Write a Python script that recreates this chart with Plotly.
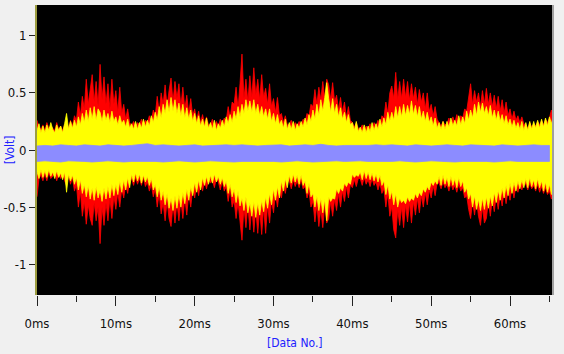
import numpy as np
import plotly.graph_objects as go

# sampling step of the envelope readings (ms)
STEP_MS = 0.25

# envelope values (Volt), 4 readings per ms
red_top = [
    0.26, 0.2, 0.18, 0.22, 0.17, 0.24, 0.19, 0.21, 0.19, 0.17, 0.24, 0.18,
    0.21, 0.17, 0.22, 0.25, 0.19, 0.26, 0.21, 0.3, 0.26, 0.42, 0.3, 0.47,
    0.36, 0.62, 0.4, 0.55, 0.66, 0.42, 0.6, 0.38, 0.75, 0.44, 0.64, 0.4,
    0.58, 0.36, 0.62, 0.4, 0.52, 0.33, 0.55, 0.32, 0.4, 0.27, 0.36, 0.24,
    0.21, 0.25, 0.2, 0.24, 0.22, 0.27, 0.21, 0.26, 0.24, 0.3, 0.25, 0.35,
    0.3, 0.47, 0.33, 0.5, 0.4, 0.57, 0.38, 0.52, 0.63, 0.42, 0.6, 0.45,
    0.58, 0.38, 0.55, 0.36, 0.48, 0.32, 0.45, 0.3, 0.36, 0.26, 0.34, 0.24,
    0.31, 0.23, 0.29, 0.22, 0.22, 0.27, 0.2, 0.25, 0.21, 0.27, 0.22, 0.28,
    0.26, 0.38, 0.28, 0.42, 0.4, 0.55, 0.36, 0.58, 0.84, 0.45, 0.62, 0.42,
    0.65, 0.46, 0.72, 0.48, 0.62, 0.44, 0.66, 0.46, 0.54, 0.4, 0.58, 0.38,
    0.45, 0.33, 0.46, 0.3, 0.32, 0.24, 0.3, 0.22, 0.22, 0.26, 0.2, 0.24,
    0.21, 0.25, 0.22, 0.27, 0.25, 0.32, 0.3, 0.4, 0.38, 0.53, 0.4, 0.55,
    0.44, 0.6, 0.45, 0.62, 0.57, 0.44, 0.59, 0.42, 0.48, 0.35, 0.46, 0.33,
    0.42, 0.28, 0.38, 0.26, 0.24, 0.2, 0.24, 0.19, 0.18, 0.22, 0.17, 0.21,
    0.19, 0.23, 0.18, 0.24, 0.21, 0.26, 0.22, 0.3, 0.28, 0.42, 0.32, 0.5,
    0.56, 0.45, 0.68, 0.44, 0.6, 0.45, 0.62, 0.46, 0.6, 0.44, 0.58, 0.45,
    0.55, 0.4, 0.53, 0.42, 0.5, 0.36, 0.5, 0.34, 0.4, 0.3, 0.38, 0.27,
    0.24, 0.21, 0.25, 0.22, 0.23, 0.28, 0.22, 0.29, 0.24, 0.31, 0.25, 0.3,
    0.28, 0.36, 0.34, 0.46, 0.58, 0.4, 0.52, 0.42, 0.5, 0.38, 0.52, 0.4,
    0.54, 0.4, 0.5, 0.38, 0.48, 0.36, 0.47, 0.34, 0.44, 0.32, 0.42, 0.3,
    0.36, 0.27, 0.34, 0.26, 0.3, 0.24, 0.29, 0.23, 0.22, 0.19, 0.24, 0.2,
    0.23, 0.21, 0.25, 0.22, 0.26, 0.22, 0.27, 0.24, 0.28, 0.35, 0.29, 0.34]

red_bottom = [
    -0.41, -0.25, -0.22, -0.27, -0.21, -0.27, -0.2, -0.25, -0.23, -0.19, -0.27, -0.21,
    -0.25, -0.2, -0.27, -0.31, -0.22, -0.3, -0.24, -0.36, -0.3, -0.5, -0.36, -0.58,
    -0.45, -0.65, -0.48, -0.6, -0.66, -0.46, -0.62, -0.5, -0.82, -0.5, -0.66, -0.46,
    -0.62, -0.42, -0.6, -0.4, -0.52, -0.37, -0.5, -0.34, -0.42, -0.3, -0.38, -0.27,
    -0.25, -0.31, -0.24, -0.3, -0.25, -0.31, -0.24, -0.32, -0.28, -0.36, -0.3, -0.41,
    -0.34, -0.5, -0.38, -0.56, -0.46, -0.62, -0.45, -0.6, -0.67, -0.48, -0.64, -0.46,
    -0.62, -0.44, -0.6, -0.42, -0.57, -0.38, -0.5, -0.34, -0.42, -0.3, -0.4, -0.28,
    -0.36, -0.27, -0.34, -0.26, -0.29, -0.26, -0.33, -0.25, -0.28, -0.35, -0.27, -0.36,
    -0.32, -0.45, -0.34, -0.5, -0.44, -0.6, -0.46, -0.65, -0.79, -0.5, -0.68, -0.48,
    -0.7, -0.5, -0.72, -0.52, -0.73, -0.52, -0.74, -0.5, -0.73, -0.48, -0.64, -0.44,
    -0.55, -0.38, -0.5, -0.36, -0.42, -0.3, -0.38, -0.27, -0.27, -0.34, -0.26, -0.32,
    -0.27, -0.33, -0.26, -0.34, -0.32, -0.42, -0.36, -0.5, -0.45, -0.63, -0.48, -0.67,
    -0.52, -0.68, -0.48, -0.64, -0.6, -0.45, -0.58, -0.43, -0.53, -0.38, -0.5, -0.36,
    -0.45, -0.32, -0.42, -0.3, -0.33, -0.26, -0.32, -0.25, -0.25, -0.31, -0.24, -0.3,
    -0.26, -0.32, -0.25, -0.31, -0.28, -0.35, -0.29, -0.38, -0.34, -0.5, -0.38, -0.58,
    -0.5, -0.7, -0.77, -0.52, -0.66, -0.5, -0.68, -0.48, -0.63, -0.46, -0.64, -0.45,
    -0.57, -0.42, -0.55, -0.4, -0.5, -0.37, -0.48, -0.35, -0.42, -0.31, -0.4, -0.29,
    -0.29, -0.34, -0.28, -0.33, -0.3, -0.36, -0.29, -0.35, -0.31, -0.37, -0.3, -0.36,
    -0.33, -0.42, -0.4, -0.52, -0.6, -0.45, -0.57, -0.44, -0.58, -0.66, -0.5, -0.64,
    -0.6, -0.45, -0.58, -0.43, -0.54, -0.4, -0.52, -0.39, -0.49, -0.36, -0.47, -0.35,
    -0.44, -0.32, -0.42, -0.31, -0.37, -0.3, -0.35, -0.29, -0.3, -0.35, -0.29, -0.34,
    -0.31, -0.36, -0.3, -0.37, -0.32, -0.38, -0.33, -0.39, -0.36, -0.43, -0.37, -0.42]

yellow_top = [
    0.17, 0.23, 0.15, 0.21, 0.15, 0.22, 0.17, 0.24, 0.18, 0.15, 0.22, 0.17,
    0.21, 0.15, 0.23, 0.32, 0.18, 0.25, 0.19, 0.26, 0.2, 0.29, 0.22, 0.32,
    0.24, 0.35, 0.25, 0.37, 0.27, 0.38, 0.26, 0.36, 0.33, 0.25, 0.35, 0.26,
    0.32, 0.24, 0.34, 0.25, 0.29, 0.22, 0.3, 0.23, 0.26, 0.2, 0.27, 0.19,
    0.23, 0.18, 0.25, 0.18, 0.24, 0.19, 0.27, 0.2, 0.26, 0.21, 0.3, 0.24,
    0.33, 0.26, 0.38, 0.28, 0.4, 0.32, 0.44, 0.33, 0.46, 0.34, 0.44, 0.32,
    0.41, 0.3, 0.4, 0.28, 0.37, 0.27, 0.35, 0.25, 0.32, 0.23, 0.3, 0.21,
    0.27, 0.2, 0.28, 0.19, 0.24, 0.18, 0.26, 0.17, 0.23, 0.19, 0.26, 0.2,
    0.29, 0.23, 0.31, 0.24, 0.34, 0.27, 0.38, 0.29, 0.4, 0.32, 0.44, 0.34,
    0.43, 0.33, 0.44, 0.32, 0.4, 0.3, 0.38, 0.29, 0.36, 0.27, 0.36, 0.25,
    0.32, 0.23, 0.31, 0.22, 0.26, 0.19, 0.27, 0.18, 0.24, 0.18, 0.25, 0.17,
    0.23, 0.19, 0.25, 0.2, 0.28, 0.22, 0.31, 0.25, 0.35, 0.27, 0.4, 0.3,
    0.44, 0.34, 0.46, 0.59, 0.45, 0.33, 0.45, 0.32, 0.4, 0.29, 0.37, 0.27,
    0.33, 0.24, 0.31, 0.22, 0.24, 0.17, 0.25, 0.16, 0.2, 0.15, 0.22, 0.15,
    0.21, 0.16, 0.24, 0.17, 0.23, 0.18, 0.27, 0.2, 0.28, 0.22, 0.33, 0.25,
    0.33, 0.26, 0.38, 0.28, 0.38, 0.29, 0.4, 0.3, 0.39, 0.31, 0.43, 0.31,
    0.39, 0.29, 0.38, 0.27, 0.34, 0.25, 0.33, 0.24, 0.29, 0.21, 0.28, 0.19,
    0.24, 0.18, 0.25, 0.18, 0.25, 0.2, 0.28, 0.21, 0.26, 0.21, 0.3, 0.22,
    0.29, 0.23, 0.34, 0.26, 0.35, 0.28, 0.4, 0.3, 0.42, 0.33, 0.41, 0.32,
    0.38, 0.3, 0.39, 0.28, 0.35, 0.26, 0.34, 0.25, 0.31, 0.23, 0.3, 0.22,
    0.27, 0.2, 0.26, 0.19, 0.24, 0.18, 0.25, 0.17, 0.24, 0.17, 0.25, 0.18,
    0.25, 0.19, 0.26, 0.19, 0.27, 0.2, 0.28, 0.21, 0.29, 0.23, 0.3, 0.28]

yellow_bottom = [
    -0.19, -0.25, -0.17, -0.24, -0.18, -0.24, -0.17, -0.23, -0.19, -0.25, -0.18, -0.24,
    -0.2, -0.26, -0.19, -0.37, -0.21, -0.27, -0.22, -0.3, -0.24, -0.35, -0.26, -0.38,
    -0.3, -0.41, -0.31, -0.43, -0.33, -0.44, -0.32, -0.42, -0.35, -0.45, -0.33, -0.43,
    -0.32, -0.42, -0.3, -0.4, -0.3, -0.39, -0.27, -0.37, -0.26, -0.35, -0.24, -0.33,
    -0.21, -0.28, -0.2, -0.27, -0.21, -0.29, -0.22, -0.28, -0.23, -0.31, -0.25, -0.35,
    -0.3, -0.41, -0.32, -0.44, -0.36, -0.48, -0.38, -0.51, -0.42, -0.53, -0.4, -0.51,
    -0.39, -0.5, -0.37, -0.47, -0.34, -0.44, -0.32, -0.4, -0.28, -0.37, -0.26, -0.35,
    -0.24, -0.31, -0.23, -0.3, -0.22, -0.29, -0.21, -0.28, -0.23, -0.3, -0.24, -0.32,
    -0.27, -0.38, -0.3, -0.41, -0.34, -0.46, -0.36, -0.49, -0.42, -0.53, -0.41, -0.55,
    -0.46, -0.58, -0.45, -0.59, -0.46, -0.57, -0.44, -0.54, -0.41, -0.51, -0.38, -0.48,
    -0.34, -0.44, -0.32, -0.42, -0.27, -0.36, -0.25, -0.33, -0.22, -0.29, -0.21, -0.28,
    -0.22, -0.3, -0.22, -0.31, -0.27, -0.38, -0.29, -0.41, -0.38, -0.5, -0.4, -0.53,
    -0.42, -0.55, -0.43, -0.62, -0.41, -0.45, -0.42, -0.43, -0.34, -0.38, -0.33, -0.36,
    -0.29, -0.32, -0.28, -0.3, -0.21, -0.24, -0.22, -0.23, -0.19, -0.26, -0.18, -0.25,
    -0.19, -0.26, -0.2, -0.27, -0.21, -0.28, -0.22, -0.31, -0.27, -0.39, -0.3, -0.43,
    -0.36, -0.48, -0.38, -0.5, -0.42, -0.46, -0.44, -0.47, -0.41, -0.45, -0.42, -0.44,
    -0.38, -0.42, -0.37, -0.4, -0.34, -0.37, -0.32, -0.35, -0.28, -0.31, -0.27, -0.3,
    -0.23, -0.31, -0.22, -0.3, -0.24, -0.32, -0.23, -0.31, -0.25, -0.33, -0.24, -0.32,
    -0.27, -0.37, -0.33, -0.43, -0.38, -0.5, -0.4, -0.52, -0.43, -0.53, -0.42, -0.52,
    -0.41, -0.51, -0.4, -0.49, -0.37, -0.46, -0.35, -0.44, -0.33, -0.42, -0.31, -0.4,
    -0.29, -0.38, -0.28, -0.36, -0.27, -0.34, -0.26, -0.33, -0.25, -0.33, -0.24, -0.32,
    -0.26, -0.34, -0.25, -0.33, -0.27, -0.36, -0.28, -0.37, -0.3, -0.39, -0.31, -0.4]

# blue channel envelope, one reading per ms
BLUE_STEP_MS = 1.0
blue_top = [0.035, 0.04, 0.035, 0.045, 0.04, 0.035, 0.045, 0.04, 0.035, 0.045,
            0.04, 0.035, 0.04, 0.045, 0.055, 0.04, 0.045, 0.04, 0.035, 0.04,
            0.045, 0.035, 0.04, 0.04, 0.045, 0.04, 0.045, 0.04, 0.035, 0.04,
            0.04, 0.045, 0.035, 0.04, 0.045, 0.04, 0.05, 0.04, 0.035, 0.04,
            0.04, 0.035, 0.04, 0.045, 0.04, 0.045, 0.04, 0.035, 0.045, 0.04,
            0.035, 0.04, 0.045, 0.04, 0.035, 0.045, 0.04, 0.04, 0.035, 0.045,
            0.04, 0.035, 0.04, 0.045, 0.04, 0.04]
blue_bottom = [-0.1, -0.095, -0.1, -0.105, -0.095, -0.1, -0.1, -0.105, -0.1, -0.095,
               -0.1, -0.105, -0.1, -0.095, -0.1, -0.1, -0.105, -0.1, -0.095, -0.1,
               -0.105, -0.1, -0.095, -0.1, -0.1, -0.105, -0.1, -0.1, -0.095, -0.1,
               -0.1, -0.105, -0.1, -0.095, -0.1, -0.105, -0.1, -0.1, -0.095, -0.1,
               -0.1, -0.095, -0.1, -0.105, -0.1, -0.1, -0.095, -0.1, -0.105, -0.1,
               -0.095, -0.1, -0.1, -0.105, -0.1, -0.095, -0.1, -0.1, -0.105, -0.1,
               -0.095, -0.1, -0.1, -0.105, -0.1, -0.1]

x_tick_vals = [0, 10, 20, 30, 40, 50, 60]
x_tick_text = ["0ms", "10ms", "20ms", "30ms", "40ms", "50ms", "60ms"]
y_tick_vals = [1, 0.5, 0, -0.5, -1]
y_tick_text = ["1", "0.5", "0", "-0.5", "-1"]


def band(top, bottom, step):
    t = np.arange(len(top)) * step
    xs = np.concatenate([t, t[::-1]])
    ys = np.concatenate([np.array(top), np.array(bottom)[::-1]])
    return xs, ys


fig = go.Figure()
for top, bot, step, col in [
    (red_top, red_bottom, STEP_MS, "#ff0000"),
    (yellow_top, yellow_bottom, STEP_MS, "#ffff00"),
    (blue_top, blue_bottom, BLUE_STEP_MS, "#8c8cff"),
]:
    xs, ys = band(top, bot, step)
    fig.add_trace(go.Scatter(x=xs, y=ys, mode="lines", fill="toself",
                             fillcolor=col, line=dict(color=col, width=0.8),
                             hoverinfo="skip", showlegend=False))

font_narrow = "Liberation Sans Narrow, DejaVu Sans Condensed, Arial Narrow, sans-serif"

fig.update_layout(
    width=564, height=354,
    margin=dict(l=37, r=11, t=5, b=59),
    paper_bgcolor="#f0f0f0",
    plot_bgcolor="#000000",
    showlegend=False,
    xaxis=dict(range=[0, 65.45], tickvals=x_tick_vals, ticktext=x_tick_text,
               automargin=False,
               ticks="outside", ticklen=10, tickcolor="#222222", showgrid=False,
               zeroline=False, showline=False, ticklabelstandoff=6,
               tickfont=dict(family=font_narrow, size=13, color="#111111"),
               minor=dict(dtick=5, tick0=0, ticks="outside", ticklen=6,
                          tickcolor="#222222", showgrid=False)),
    yaxis=dict(range=[-1.27, 1.27], tickvals=y_tick_vals, ticktext=y_tick_text,
               automargin=False,
               ticks="outside", ticklen=6, tickcolor="#222222", showgrid=False,
               zeroline=False, showline=True, linecolor="#9c9c40", linewidth=2,
               tickfont=dict(family=font_narrow, size=13, color="#111111")),
)
fig.add_shape(type="line", xref="paper", yref="paper", x0=1, x1=1, y0=0, y1=1,
              line=dict(color="#a0a0a0", width=2))
fig.add_annotation(text="[Data No.]", xref="paper", yref="paper", x=0.5, y=-0.165,
                   yanchor="middle", xanchor="center", showarrow=False,
                   font=dict(family=font_narrow, size=12, color="#2020ff"))
fig.add_annotation(text="[Volt]", xref="paper", yref="paper", x=-0.052, y=0.5,
                   xanchor="center", yanchor="middle", textangle=-90, showarrow=False,
                   font=dict(family=font_narrow, size=12, color="#2020ff"))

fig.write_html("out.html")
